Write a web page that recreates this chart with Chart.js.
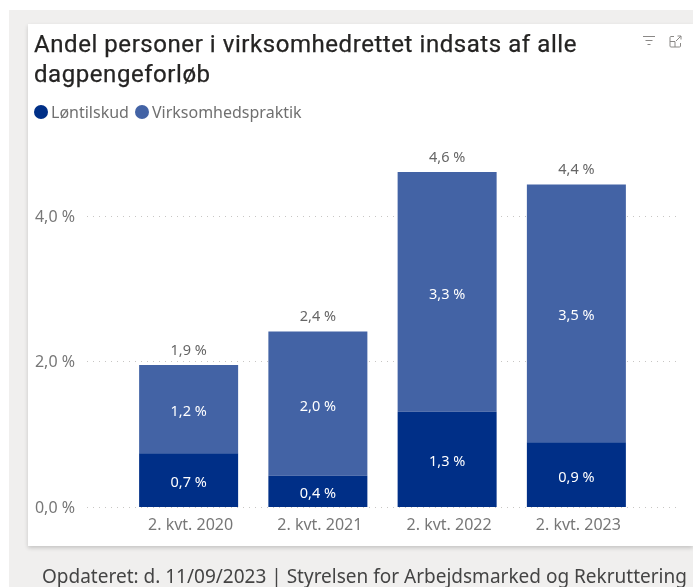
<!DOCTYPE html>
<html lang="da"><head><meta charset="utf-8">
<script src="https://cdn.jsdelivr.net/npm/chart.js@4"></script>
<style>
html,body{margin:0;padding:0;width:693px;height:587px;overflow:hidden;background:#fff}
#bg{position:absolute;left:9px;top:10px;width:684px;height:577px;background:#f0efee}
#card{position:absolute;left:28px;top:24px;width:665px;height:522px;background:#fff;box-shadow:0 2px 4px rgba(0,0,0,.18)}
canvas{position:absolute;left:0;top:0}
#title{position:absolute;left:34px;top:29px;width:600px;font:400 24px/30px Roboto,sans-serif;letter-spacing:.56px;color:#252423;-webkit-text-stroke:.25px #252423}
#legend{position:absolute;left:34px;top:101px;font:16px/22px "Noto Sans",sans-serif;color:#707070;display:flex;white-space:nowrap}
#legend span.i{display:flex;align-items:center;margin-right:6px}
#legend i{display:inline-block;width:14px;height:14px;border-radius:50%;margin-right:3px}
#foot{position:absolute;left:42px;top:563px;font:19px/26px "Noto Sans",sans-serif;color:#444;white-space:nowrap}
svg{position:absolute;top:35px}
</style></head><body>
<div id="bg"></div><div id="card"></div>
<canvas id="c" width="693" height="587"></canvas>
<div id="title">Andel personer i virksomhedrettet indsats af alle<br>dagpengeforløb</div>
<div id="legend"></div>
<svg style="left:642px" width="14" height="12" viewBox="0 0 14 12" fill="none" stroke="#8a8886"><path d="M1 1.500H13M3.500 5.500H10.500M5.500 9.500H8.500"/></svg>
<svg style="left:669px" width="13" height="13" viewBox="0 0 13 13" fill="none" stroke="#8a8886"><path d="M5 1.500H2a1 1 0 0 0-1 1V11a1 1 0 0 0 1 1h8.500a1 1 0 0 0 1-1V8M7 6l5-5M8.500 1H12V4.500M1 6.500H6V12"/></svg>
<div id="foot">Opdateret: d. 11/09/2023 | Styrelsen for Arbejdsmarked og Rekruttering</div>
<script>
const categories = ["2. kvt. 2020","2. kvt. 2021","2. kvt. 2022","2. kvt. 2023"];
const loentilskud = [0.74,0.43,1.31,0.89];
const virksomhedspraktik = [1.21,1.98,3.29,3.54];
const totals = [1.9,2.4,4.6,4.4];
const seriesNames = ["Løntilskud","Virksomhedspraktik"];
const seriesColors = ["#002f87","#4363a5"];
const yTicks = [0,2,4];
const pct = v => v.toFixed(1).replace(".",",")+" %";
const labelFont = '14.5px "Noto Sans", sans-serif';

const dottedGrid = {id:"dottedGrid",beforeDatasetsDraw(ch){
  const {ctx,scales:{y}} = ch;
  ctx.save();ctx.strokeStyle="#c8c6c4";ctx.lineWidth=1;ctx.setLineDash([1,5]);
  y.ticks.forEach(t=>{const p=Math.round(y.getPixelForValue(t.value))+.5;
    ctx.beginPath();ctx.moveTo(87,p);ctx.lineTo(676,p);ctx.stroke();});
  ctx.restore();}};
const barLabels = {id:"barLabels",afterDatasetsDraw(ch){
  const {ctx} = ch;
  ctx.save();ctx.font=labelFont;ctx.textAlign="center";ctx.textBaseline="middle";
  ctx.fillStyle="#fff";
  ch.data.datasets.forEach((d,i)=>ch.getDatasetMeta(i).data.forEach((b,j)=>{
    ctx.fillText(pct(d.data[j]),b.x,(b.y+b.base)/2+3);}));
  ctx.fillStyle="#666";
  ch.getDatasetMeta(1).data.forEach((b,j)=>ctx.fillText(pct(totals[j]),b.x,b.y-14.5));
  ctx.restore();}};

const chart = new Chart(document.getElementById("c"),{
  type:"bar",
  data:{labels:categories,datasets:[
    {label:seriesNames[0],data:loentilskud,backgroundColor:seriesColors[0]},
    {label:seriesNames[1],data:virksomhedspraktik,backgroundColor:seriesColors[1]}]},
  options:{responsive:false,animation:false,devicePixelRatio:1,
    layout:{padding:{left:20,top:143,right:52,bottom:50}},
    categoryPercentage:1,barPercentage:.766,
    plugins:{legend:{display:false},title:{display:false},tooltip:{enabled:false}},
    scales:{
      x:{stacked:true,grid:{display:false},border:{display:false},
        afterFit(s){s.height=30;},
        ticks:{color:"#777",padding:1,labelOffset:2,maxRotation:0,font:{family:'"Noto Sans", sans-serif',size:16}}},
      y:{stacked:true,min:0,max:5,grid:{display:false},border:{display:false},
        afterFit(s){s.width=104;},
        afterBuildTicks(s){s.ticks=yTicks.map(v=>({value:v}));},
        ticks:{color:"#777",padding:41,labelOffset:1.5,callback:v=>pct(v),font:{family:'"Noto Sans", sans-serif',size:16}}}
    }},
  plugins:[dottedGrid,barLabels]});

document.getElementById("legend").innerHTML = chart.data.datasets.map(d=>
  `<span class="i"><i style="background:${d.backgroundColor}"></i>${d.label}</span>`).join("");
</script>
</body></html>
